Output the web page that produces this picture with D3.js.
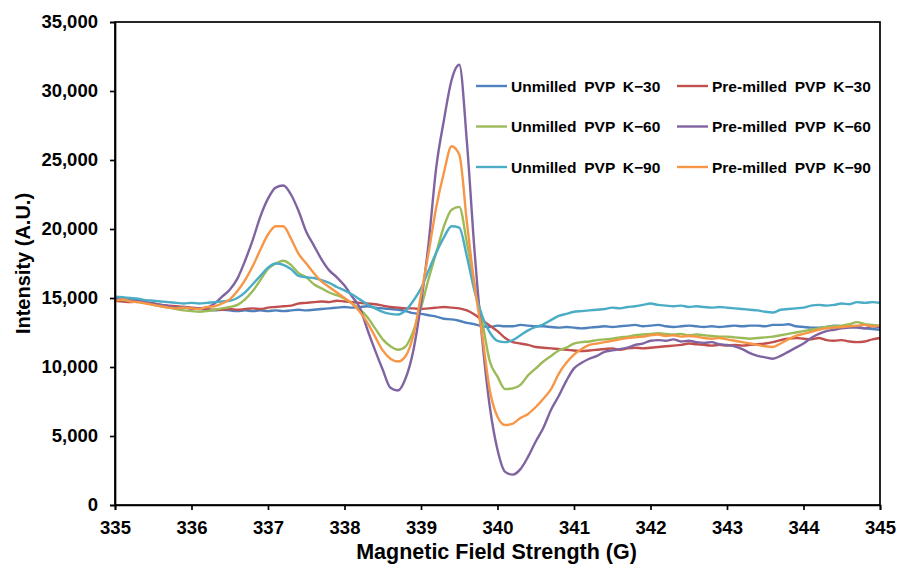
<!DOCTYPE html>
<html>
<head>
<meta charset="utf-8">
<script src="https://cdn.jsdelivr.net/npm/d3@7"></script>
<style>
  body { margin: 0; background: #fff; }
  svg text { font-family: "Liberation Sans", Arial, sans-serif; font-weight: bold; fill: #000; }
</style>
</head>
<body>
<div id="chart"></div>
<script>
// magnetic field (G), shared by every series
const field = [
  335.0, 335.1, 335.2, 335.3, 335.4, 335.5, 335.6, 335.7, 335.8, 335.9,
  336.0, 336.1, 336.2, 336.3, 336.4, 336.5, 336.6, 336.7, 336.8, 336.9,
  337.0, 337.1, 337.2, 337.3, 337.4, 337.5, 337.6, 337.7, 337.8, 337.9,
  338.0, 338.1, 338.2, 338.3, 338.4, 338.5, 338.6, 338.7, 338.8, 338.9,
  339.0, 339.1, 339.2, 339.3, 339.4, 339.5, 339.6, 339.7, 339.8, 339.9,
  340.0, 340.1, 340.2, 340.3, 340.4, 340.5, 340.6, 340.7, 340.8, 340.9,
  341.0, 341.1, 341.2, 341.3, 341.4, 341.5, 341.6, 341.7, 341.8, 341.9,
  342.0, 342.1, 342.2, 342.3, 342.4, 342.5, 342.6, 342.7, 342.8, 342.9,
  343.0, 343.1, 343.2, 343.3, 343.4, 343.5, 343.6, 343.7, 343.8, 343.9,
  344.0, 344.1, 344.2, 344.3, 344.4, 344.5, 344.6, 344.7, 344.8, 344.9,
  345.0
];

const unmilledK30 = [
  14950, 14900, 14850, 14750, 14700, 14600, 14500, 14400, 14350, 14300,
  14250, 14200, 14150, 14100, 14150, 14100, 14050, 14100, 14050, 14100,
  14050, 14100, 14050, 14100, 14150, 14100, 14150, 14200, 14250, 14300,
  14350, 14300, 14350, 14400, 14300, 14250, 14200, 14150, 14050, 13900,
  13850, 13750, 13650, 13500, 13450, 13350, 13200, 13100, 12950, 12900,
  13000, 12950, 12950, 13050, 13000, 12950, 12950, 12900, 12850, 12900,
  12850, 12800, 12850, 12900, 12950, 12900, 12950, 13000, 13050, 12950,
  13000, 13050, 12950, 12900, 12950, 13000, 12950, 12900, 12950, 12900,
  12950, 13000, 12950, 13000, 13000, 12950, 13050, 13050, 13100, 12950,
  12900, 12850, 12850, 12900, 13000, 12950, 12900, 12850, 12800, 12750,
  12700
];

const premilledK30 = [
  14800, 14750, 14700, 14750, 14650, 14600, 14500, 14450, 14400, 14350,
  14300, 14250, 14200, 14150, 14150, 14200, 14150, 14200, 14250, 14200,
  14300, 14350, 14400, 14450, 14600, 14650, 14700, 14750, 14700, 14800,
  14750, 14700, 14650, 14600, 14550, 14450, 14350, 14300, 14250, 14250,
  14200, 14250, 14300, 14350, 14300, 14250, 14100, 13800, 13400, 13000,
  12600, 12100, 11800, 11700, 11600, 11450, 11400, 11350, 11300, 11250,
  11200, 11150, 11200, 11250, 11300, 11350, 11250, 11350, 11400, 11350,
  11400, 11450, 11500, 11550, 11600, 11700, 11650, 11600, 11550, 11600,
  11550, 11600, 11550, 11600, 11650, 11700, 11800, 11950, 12050, 12100,
  12050, 12000, 12100, 11950, 11900, 11950, 11850, 11800, 11850, 12000,
  12100
];

const unmilledK60 = [
  14900, 14850, 14800, 14700, 14650, 14500, 14400, 14300, 14200, 14100,
  14050, 14000, 14050, 14150, 14250, 14350, 14500, 14900, 15500, 16300,
  17100, 17500, 17700, 17400, 16800, 16500, 16000, 15700, 15400, 15200,
  14950, 14600, 14200, 13600, 12800, 12000, 11500, 11250, 11500, 12600,
  14300, 16400, 18300, 20200, 21400, 21600, 19000, 16000, 13300, 10400,
  9300, 8400, 8450, 8700, 9400, 9900, 10400, 10800, 11200, 11400,
  11700, 11800, 11850, 11950, 12000, 12050, 12150, 12200, 12300, 12350,
  12400, 12450, 12400, 12350, 12400, 12300, 12350, 12300, 12250, 12200,
  12200, 12150, 12100, 12050, 12100, 12150, 12200, 12300, 12400, 12500,
  12600, 12700, 12800, 12900, 12950, 13000, 13100, 13250, 13100, 13050,
  13000
];

const premilledK60 = [
  14900, 14950, 14800, 14850, 14700, 14550, 14500, 14400, 14300, 14350,
  14200, 14250, 14300, 14600, 15100, 15600, 16400, 17700, 19200, 20900,
  22200, 23000, 23150, 22500, 21300, 19800, 18800, 17800, 17000, 16500,
  15900, 15100, 14300, 12700, 11200, 9800, 8500, 8300, 9200, 11200,
  14600, 19000, 24500, 27900, 30800, 31900, 26300, 18400, 12000, 7100,
  4000, 2400, 2200, 2600, 3500, 4600, 5600, 6900, 7900, 9000,
  9900, 10300, 10600, 10800, 11100, 11200, 11300, 11400, 11600, 11700,
  11900, 11950, 11900, 12000, 11850, 11900, 11800, 11750, 11800, 11650,
  11600, 11500, 11300, 11000, 10800, 10700, 10600, 10800, 11100, 11400,
  11700, 12100, 12400, 12600, 12700, 12800, 12850, 12900, 12800, 12950,
  12900
];

const unmilledK90 = [
  15100, 15050, 15000, 14950, 14850, 14800, 14750, 14700, 14650, 14600,
  14650, 14600, 14650, 14700, 14750, 14800, 15000, 15400, 16000, 16600,
  17200, 17500, 17400, 17100, 16600, 16500, 16450, 16300, 16100, 15800,
  15550, 15250, 14900, 14550, 14250, 14000, 13850, 13800, 14100, 14800,
  15700, 17000, 18300, 19400, 20200, 20100, 18000, 15500, 13700, 12500,
  11900, 11800, 11950, 12300, 12650, 12900, 13100, 13400, 13700, 13850,
  14000, 14050, 14100, 14150, 14200, 14300, 14250, 14350, 14400, 14500,
  14600, 14500, 14450, 14400, 14450, 14350, 14400, 14350, 14300, 14350,
  14300, 14250, 14200, 14150, 14100, 14000, 13950, 14150, 14200, 14250,
  14300, 14450, 14500, 14450, 14500, 14600, 14550, 14700, 14650, 14700,
  14650
];

const premilledK90 = [
  14800, 14900, 14750, 14700, 14600, 14500, 14400, 14300, 14250, 14300,
  14250, 14200, 14350, 14400, 14600, 14900, 15500, 16300, 17300, 18500,
  19600, 20200, 20200, 19300, 18200, 17500, 16800, 16200, 15800, 15400,
  15000, 14600, 14000, 13200, 12200, 11200, 10600, 10400, 10800, 12300,
  15200, 18300, 21600, 24100, 26000, 25400, 20500, 15900, 12300, 8300,
  6400, 5800, 5900, 6300, 6600, 7100, 7700, 8400, 9500, 10300,
  10900, 11300, 11600, 11700, 11800, 11900, 12000, 12100, 12150, 12200,
  12300, 12350, 12250, 12300, 12200, 12250, 12200, 12100, 12050, 12100,
  12000, 11900, 11800, 11700, 11600, 11500, 11450, 11700, 12000, 12250,
  12400, 12550, 12700, 12800, 12850, 12900, 12950, 13000, 13050, 12950,
  13000
];

const seriesNames = [
  "Unmilled PVP K\u221230", "Pre-milled PVP K\u221230",
  "Unmilled PVP K\u221260", "Pre-milled PVP K\u221260",
  "Unmilled PVP K\u221290", "Pre-milled PVP K\u221290"
];
const seriesValues = [unmilledK30, premilledK30, unmilledK60, premilledK60, unmilledK90, premilledK90];
const seriesColors = ["#4F81BD", "#C0504D", "#9BBB59", "#8064A2", "#4BACC6", "#F79646"];

const xTicks = [335, 336, 337, 338, 339, 340, 341, 342, 343, 344, 345];
const yTicks = [0, 5000, 10000, 15000, 20000, 25000, 30000, 35000];

const config = {
  width: 897,
  height: 565,
  margin: { top: 22, right: 17, bottom: 60, left: 115 }
};

const innerW = config.width - config.margin.left - config.margin.right;
const innerH = config.height - config.margin.top - config.margin.bottom;

const svg = d3.select("#chart")
  .append("svg")
  .attr("width", config.width)
  .attr("height", config.height);

const g = svg.append("g")
  .attr("transform", "translate(" + config.margin.left + "," + config.margin.top + ")");

const x = d3.scaleLinear().domain([335, 345]).range([0, innerW]);
const y = d3.scaleLinear().domain([0, 35000]).range([innerH, 0]);

// series lines, legend order = draw order
const line = d3.line()
  .curve(d3.curveMonotoneX)
  .x((d) => x(d[0]))
  .y((d) => y(d[1]));

seriesValues.forEach((vals, i) => {
  g.append("path")
    .datum(field.map((f, j) => [f, vals[j]]))
    .attr("fill", "none")
    .attr("stroke", seriesColors[i])
    .attr("stroke-width", 2.4)
    .attr("stroke-linejoin", "round")
    .attr("d", line);
});

// frame
g.append("rect")
  .attr("width", innerW)
  .attr("height", innerH)
  .attr("fill", "none")
  .attr("stroke", "#000")
  .attr("stroke-width", 1.7);

// axes
const xAxis = g.append("g")
  .attr("transform", "translate(0," + innerH + ")")
  .call(d3.axisBottom(x).tickValues(xTicks).tickSize(5).tickPadding(11).tickFormat(d3.format("d")));

const yAxis = g.append("g")
  .call(d3.axisLeft(y).tickValues(yTicks).tickSize(5).tickPadding(12).tickFormat(d3.format(",")));

[xAxis, yAxis].forEach((ax) => {
  ax.select(".domain").attr("stroke", "#000").attr("stroke-width", 1.7);
  ax.selectAll(".tick line").attr("stroke", "#000").attr("stroke-width", 1.7);
  ax.selectAll(".tick text")
    .style("font-size", "18.5px")
    .style("font-family", "'Liberation Sans', Arial, sans-serif")
    .style("font-weight", "bold")
    .attr("fill", "#000");
});

// axis titles
svg.append("text")
  .attr("x", config.margin.left + innerW / 2 - 1)
  .attr("y", 559)
  .attr("text-anchor", "middle")
  .style("font-size", "21.5px")
  .text("Magnetic Field Strength (G)");

svg.append("text")
  .attr("transform", "translate(30," + (config.margin.top + innerH / 2) + ") rotate(-90)")
  .attr("text-anchor", "middle")
  .style("font-size", "20px")
  .text("Intensity (A.U.)");

// legend, two columns, filled row by row
const legendCols = [476, 677];
const legendRows = [86, 126.5, 167];
const legend = svg.append("g");

seriesNames.forEach((name, i) => {
  const lx = legendCols[i % 2];
  const ly = legendRows[Math.floor(i / 2)];
  legend.append("line")
    .attr("x1", lx).attr("x2", lx + 31)
    .attr("y1", ly).attr("y2", ly)
    .attr("stroke", seriesColors[i])
    .attr("stroke-width", 2.4);
  legend.append("text")
    .attr("x", lx + 35)
    .attr("y", ly + 5.5)
    .style("font-size", "15.5px")
    .style("word-spacing", "3.5px")
    .text(name);
});
</script>
</body>
</html>
